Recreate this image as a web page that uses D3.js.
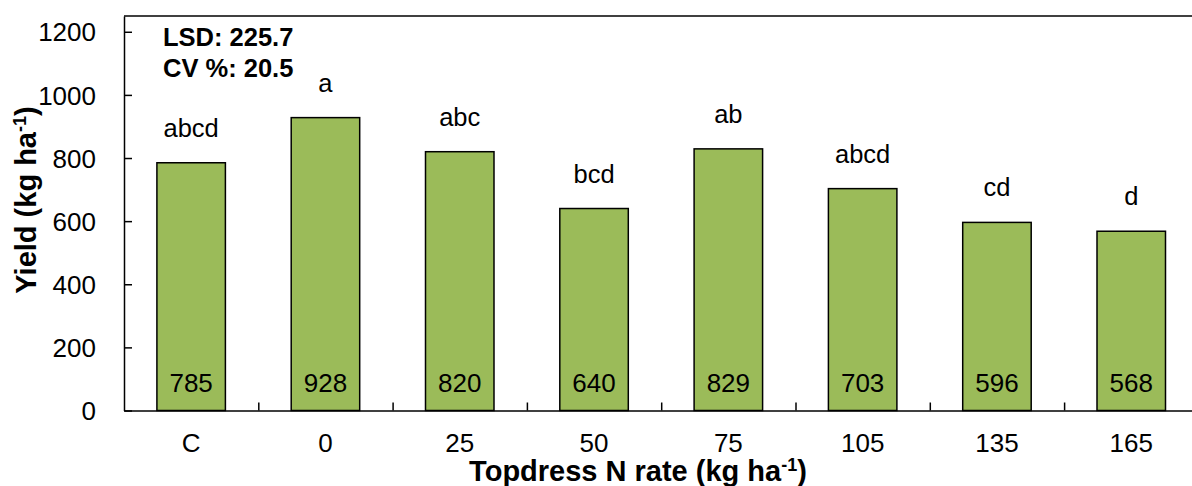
<!DOCTYPE html>
<html>
<head>
<meta charset="utf-8">
<script src="https://cdn.jsdelivr.net/npm/d3@7"></script>
<style>
  html, body { margin: 0; padding: 0; background: #fff; }
  svg { display: block; font-family: "Liberation Sans", Arial, sans-serif; }
</style>
</head>
<body>
<svg id="chart" width="1192" height="486"></svg>
<script>
const categories = ["C", "0", "25", "50", "75", "105", "135", "165"];
const yields = [785, 928, 820, 640, 829, 703, 596, 568];
const letters = ["abcd", "a", "abc", "bcd", "ab", "abcd", "cd", "d"];
const yTicks = [0, 200, 400, 600, 800, 1000, 1200];
const statLines = ["LSD: 225.7", "CV %: 20.5"];

const svg = d3.select("#chart");
const plotLeft = 124, plotBottom = 410.5, plotTop = 16;
const step = 134.3;
const plotRight = plotLeft + step * categories.length;

const x = d3.scaleBand().domain(categories).range([plotLeft, plotRight])
  .paddingInner(0.49).paddingOuter(0.245);
const y = d3.scaleLinear().domain([0, 1250]).range([plotBottom, plotTop]);

// top border
svg.append("line").attr("x1", plotLeft).attr("x2", plotRight).attr("y1", plotTop).attr("y2", plotTop)
  .attr("stroke", "#000").attr("stroke-width", 1.5);

// bars
svg.append("g").selectAll("rect").data(yields).join("rect")
  .attr("x", (d, i) => x(categories[i]))
  .attr("width", x.bandwidth())
  .attr("y", d => y(d))
  .attr("height", d => y(0) - y(d))
  .attr("fill", "#9BBB59")
  .attr("stroke", "#000")
  .attr("stroke-width", 1.5);

// y axis
const yAxis = svg.append("g").attr("transform", `translate(${plotLeft},0)`)
  .call(d3.axisLeft(y).tickValues(yTicks).tickFormat(d3.format("d"))
    .tickSizeInner(-8).tickSizeOuter(0).tickPadding(28));
yAxis.select(".domain").attr("stroke-width", 1.5);
yAxis.selectAll(".tick line").attr("stroke-width", 1.5);
yAxis.selectAll(".tick text").attr("font-size", 26).attr("fill", "#000")
  .attr("font-family", "Liberation Sans, Arial, sans-serif").attr("dy", "0.35em");

// x axis labels
const xAxis = svg.append("g").attr("transform", `translate(0,${plotBottom})`)
  .call(d3.axisBottom(x).tickSize(0).tickPadding(23));
xAxis.select(".domain").remove();
xAxis.selectAll(".tick text").attr("font-size", 26).attr("fill", "#000")
  .attr("font-family", "Liberation Sans, Arial, sans-serif").attr("dy", "0.71em");

// x axis line with boundary ticks
const xb = d3.scaleLinear().domain([0, categories.length]).range([plotLeft, plotRight]);
const xAxis2 = svg.append("g").attr("transform", `translate(0,${plotBottom})`)
  .call(d3.axisBottom(xb).tickValues(d3.range(1, categories.length)).tickSizeInner(-8).tickSizeOuter(0).tickFormat(""));
xAxis2.select(".domain").attr("stroke-width", 1.5);
xAxis2.selectAll(".tick line").attr("stroke-width", 1.5);

// value labels inside bars
svg.append("g").selectAll("text").data(yields).join("text")
  .attr("x", (d, i) => x(categories[i]) + x.bandwidth() / 2)
  .attr("y", y(0) - 18.5)
  .attr("text-anchor", "middle")
  .attr("font-size", 26)
  .text(d => d);

// significance letters
svg.append("g").selectAll("text").data(letters).join("text")
  .attr("x", (d, i) => x(categories[i]) + x.bandwidth() / 2)
  .attr("y", (d, i) => y(yields[i]) - 26)
  .attr("text-anchor", "middle")
  .attr("font-size", 25.5)
  .text(d => d);

// stats
svg.append("g").selectAll("text").data(statLines).join("text")
  .attr("x", 163)
  .attr("y", (d, i) => 46 + i * 31.3)
  .attr("font-size", 25.5)
  .attr("font-weight", "bold")
  .text(d => d);

// y title
const yt = svg.append("text")
  .attr("transform", `translate(36,200) rotate(-90)`)
  .attr("text-anchor", "middle")
  .attr("font-size", 29)
  .attr("font-weight", "bold");
yt.append("tspan").text("Yield (kg ha");
yt.append("tspan").attr("dy", -10).attr("font-size", 18).text("-1");
yt.append("tspan").attr("dy", 10).text(")");

// x title
const xt = svg.append("text")
  .attr("x", 638).attr("y", 481)
  .attr("text-anchor", "middle")
  .attr("font-size", 29)
  .attr("font-weight", "bold");
xt.append("tspan").text("Topdress N rate (kg ha");
xt.append("tspan").attr("dy", -10).attr("font-size", 18).text("-1");
xt.append("tspan").attr("dy", 10).text(")");
</script>
</body>
</html>
